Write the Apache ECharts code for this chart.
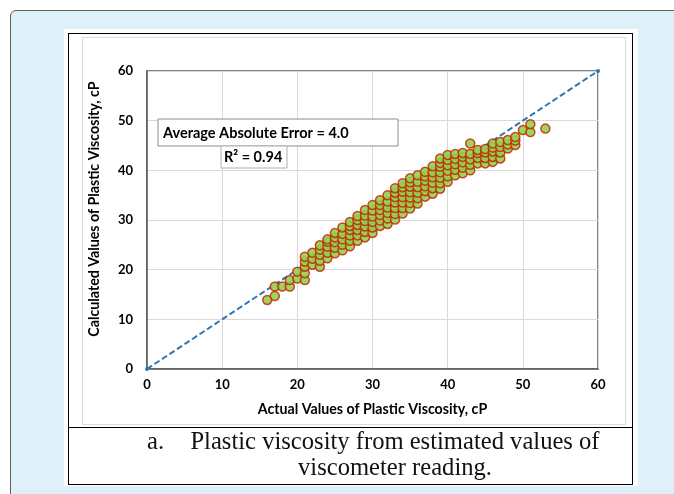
<!DOCTYPE html>
<html>
<head>
<meta charset="utf-8">
<script src="https://cdn.jsdelivr.net/npm/echarts@6/dist/echarts.min.js"></script>
<style>
  html, body { margin: 0; padding: 0; background: #fff; }
  body { width: 674px; height: 494px; position: relative; overflow: hidden; }
  .panel { position: absolute; left: 10px; top: 10px; width: 720px; height: 520px;
    background: #dff0fb; border: 1.5px solid #5a5f66; border-radius: 6px; }
  .sheet { position: absolute; left: 64px; top: 29px; width: 574px; height: 457px; background: #fff; }
  .table { position: absolute; left: 68px; top: 33px; width: 565px; height: 452px;
    border: 1px solid #000; box-sizing: border-box; }
  .divider { position: absolute; left: 68px; top: 427px; width: 565px; height: 1px; background: #000; }
  .chartbox { position: absolute; left: 82px; top: 37px; width: 544px; height: 388px;
    border: 1px solid #dcdcdc; box-sizing: border-box; }
  #chart { position: absolute; left: 0; top: 0; width: 674px; height: 494px; }
  .cap { position: absolute; font-family: "Liberation Serif", "DejaVu Serif", serif;
    font-size: 24.6px; line-height: 26px; color: #111; white-space: nowrap; }
</style>
</head>
<body>
<div class="panel"></div>
<div class="sheet"></div>
<div class="chartbox"></div>
<div class="table"></div>
<div class="divider"></div>
<div id="chart"></div>
<div class="cap" style="left:147px; top:428px;">a.</div>
<div class="cap" style="left:184px; top:428px; width:422px; text-align:center;">Plastic viscosity from estimated values of<br>viscometer reading.</div>
<script>
// actual plastic viscosity (x) for each column of points
const actualCols = [16, 17, 18, 19, 20, 21, 22, 23, 24, 25, 26, 27, 28, 29, 30, 31, 32, 33, 34,
  35, 36, 37, 38, 39, 40, 41, 42, 43, 44, 45, 46, 47, 48, 49, 50, 51, 53];
// calculated plastic viscosity (y)
const calculatedCols = [
  [13.9],
  [14.7, 16.6],
  [16.6],
  [16.6, 17.9],
  [18.2, 19.6],
  [17.9, 19.3, 20.6, 21.6, 22.6],
  [21.0, 22.2, 23.4],
  [20.6, 21.8, 23.0, 24.0, 24.9],
  [22.3, 23.4, 24.6, 25.6, 26.1],
  [23.3, 24.4, 25.5, 26.5, 27.4],
  [23.9, 25.0, 26.1, 27.2, 28.5],
  [24.7, 25.8, 26.9, 28.0, 28.8, 29.6],
  [25.8, 26.9, 28.0, 29.0, 30.0, 30.8],
  [26.5, 27.6, 28.7, 29.8, 30.9, 32.0],
  [27.4, 28.5, 29.6, 30.7, 31.9, 33.0],
  [28.8, 29.9, 31.0, 32.0, 33.0, 34.0],
  [29.2, 30.3, 31.4, 32.5, 33.7, 35.0],
  [30.1, 31.2, 32.4, 33.5, 34.6, 35.5, 36.4],
  [31.3, 32.4, 33.5, 34.6, 35.7, 36.6, 37.4],
  [32.3, 33.4, 34.5, 35.6, 36.7, 37.6, 38.4],
  [33.3, 34.4, 35.5, 36.6, 37.7, 39.0],
  [34.7, 35.8, 36.8, 37.9, 38.8, 39.7],
  [35.3, 36.4, 37.5, 38.6, 39.6, 40.8],
  [36.3, 37.4, 38.5, 39.6, 40.7, 41.5, 42.4],
  [37.7, 38.8, 39.9, 41.0, 42.1, 43.1],
  [39.0, 40.1, 41.2, 42.3, 43.3],
  [39.4, 40.5, 41.6, 42.7, 43.5],
  [40.0, 41.1, 42.2, 43.3, 45.4],
  [41.4, 42.5, 43.5, 44.1],
  [41.4, 42.5, 43.6, 44.3],
  [41.7, 42.7, 43.8, 44.6, 45.4],
  [42.4, 43.6, 44.7, 45.7],
  [44.4, 45.2, 46.1],
  [45.1, 46.0, 46.7],
  [48.1],
  [47.7, 49.3],
  [48.4]
];
// y = x reference line ends
const parityEnds = [0, 60];
const axisTicks = [0, 10, 20, 30, 40, 50, 60];
const errorText = "Average Absolute Error = 4.0";
const r2Text = "R\u00b2 = 0.94";

const points = [];
actualCols.forEach((x, i) => {
  calculatedCols[i].forEach(y => points.push([x, y]));
});

const chart = echarts.init(document.getElementById("chart"));
const fontFamily = "Lato, 'Open Sans', sans-serif";
const labelFont = { color: "#000", fontWeight: "bold", fontSize: 13, fontFamily };
const nameFont = { color: "#000", fontWeight: "bold", fontSize: 14.2, fontFamily };

const axisBase = {
  type: "value",
  min: axisTicks[0],
  max: axisTicks[axisTicks.length - 1],
  interval: 10,
  nameLocation: "middle",
  axisLine: { show: true, onZero: false, lineStyle: { color: "#595959", width: 1.5 } },
  axisTick: { show: false },
  splitLine: { lineStyle: { color: "#d9d9d9", width: 1 } }
};

chart.setOption({
  backgroundColor: "transparent",
  animation: false,
  grid: { left: 147, top: 71, width: 451, height: 298, show: true, borderColor: "#595959", borderWidth: 1.5 },
  xAxis: Object.assign({}, axisBase, {
    name: "Actual Values of Plastic Viscosity, cP",
    nameGap: 33,
    nameTextStyle: nameFont,
    axisLabel: Object.assign({ margin: 9 }, labelFont)
  }),
  yAxis: Object.assign({}, axisBase, {
    name: "Calculated Values of Plastic Viscosity, cP",
    nameGap: 46,
    // title sits a little above the plot's middle in the original
    nameTextStyle: Object.assign({ padding: [0, 0, 0, 22] }, nameFont),
    axisLabel: Object.assign({ margin: 14 }, labelFont)
  }),
  graphic: [
    { type: "rect", shape: { x: 158, y: 119, width: 240, height: 27 },
      style: { fill: "#fff", stroke: "#8c8c8c", lineWidth: 1 }, z: 100 },
    { type: "text", x: 163, y: 133, z: 101,
      style: { text: errorText, fill: "#000", font: "bold 14.5px " + fontFamily, verticalAlign: "middle" } },
    { type: "rect", shape: { x: 221, y: 146, width: 66, height: 22 },
      style: { fill: "#fff", stroke: "#b0b0b0", lineWidth: 1 }, z: 100 },
    { type: "text", x: 224, y: 157.5, z: 101,
      style: { text: r2Text, fill: "#000", font: "bold 14.5px " + fontFamily, verticalAlign: "middle" } }
  ],
  series: [
    {
      type: "line",
      data: [[parityEnds[0], parityEnds[0]], [parityEnds[1], parityEnds[1]]],
      symbol: "circle",
      symbolSize: 4,
      itemStyle: { color: "#2e75b6" },
      lineStyle: { color: "#2e75b6", width: 2, type: [6, 3] },
      z: 2
    },
    {
      type: "scatter",
      data: points,
      symbolSize: 9,
      itemStyle: { color: "#92d050", borderColor: "rgba(196,34,0,0.9)", borderWidth: 1.5, opacity: 0.9 },
      z: 3
    }
  ]
});
</script>
</body>
</html>
